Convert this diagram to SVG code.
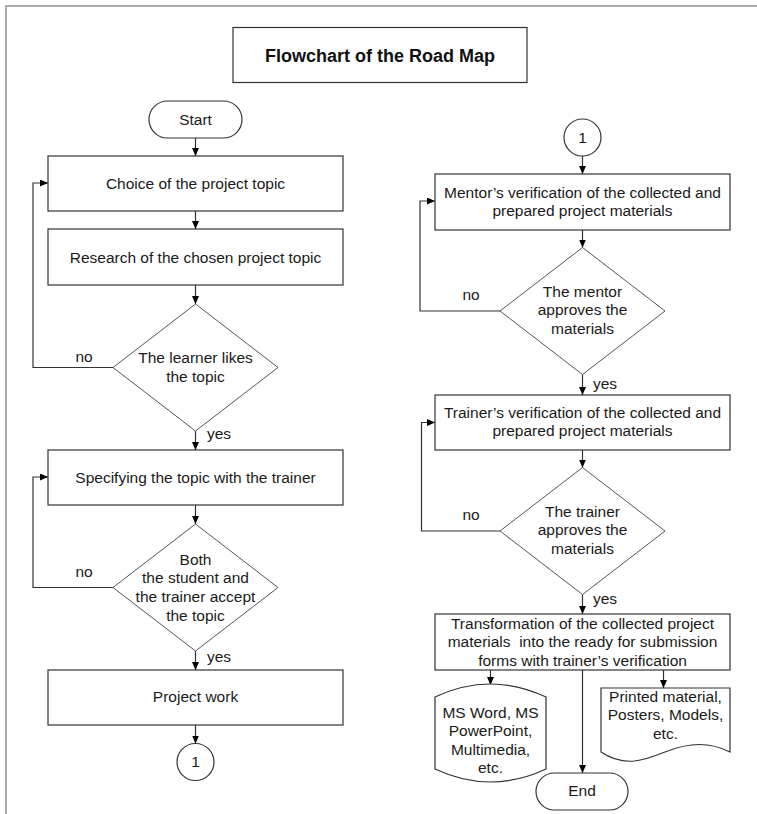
<svg xmlns="http://www.w3.org/2000/svg" width="757" height="814" viewBox="0 0 757 814">
<style>
.t{font-family:"Liberation Sans",Arial,sans-serif;font-size:15.5px;fill:#1a1a1a;text-anchor:middle}
.l{font-family:"Liberation Sans",Arial,sans-serif;font-size:15.5px;fill:#1a1a1a}
.b{fill:#fff;stroke:#333;stroke-width:1.2}
.d{fill:#fff;stroke:#555;stroke-width:1}
.c{fill:none;stroke:#333;stroke-width:1.2}
</style>
<defs>
<marker id="a" markerWidth="8" markerHeight="7" refX="8" refY="3.5" orient="auto" markerUnits="userSpaceOnUse">
<path d="M0,0 L8,3.5 L0,7 Z" fill="#000"/>
</marker>
</defs>
<rect width="757" height="814" fill="#fff"/>
<path d="M6,814 V6 H757" fill="none" stroke="#aaa" stroke-width="2"/>

<g id="title">
<rect class="b" x="233" y="27.5" width="294" height="55"/>
<text x="380" y="62" style="font-family:'Liberation Sans',Arial,sans-serif;font-size:18px;font-weight:bold;fill:#111;text-anchor:middle">Flowchart of the Road Map</text>
</g>

<g id="connectors">
<path class="c" d="M195.5,138 V156" marker-end="url(#a)"/>
<path class="c" d="M195.5,211 V229" marker-end="url(#a)"/>
<path class="c" d="M195.5,285 V304" marker-end="url(#a)"/>
<path class="c" d="M195.5,431 V450" marker-end="url(#a)"/>
<path class="c" d="M195.5,505 V524" marker-end="url(#a)"/>
<path class="c" d="M195.5,651 V670" marker-end="url(#a)"/>
<path class="c" d="M195.5,725 V743.5" marker-end="url(#a)"/>
<path class="c" d="M113,367.5 H33 V183 H48" marker-end="url(#a)"/>
<path class="c" d="M113,587.5 H33 V477 H48" marker-end="url(#a)"/>
<path class="c" d="M582.5,156 V174" marker-end="url(#a)"/>
<path class="c" d="M582.5,230 V247.5" marker-end="url(#a)"/>
<path class="c" d="M582.5,374.5 V395" marker-end="url(#a)"/>
<path class="c" d="M582.5,450 V467.5" marker-end="url(#a)"/>
<path class="c" d="M582.5,594.5 V614" marker-end="url(#a)"/>
<path class="c" d="M500,311 H420 V201 H435" marker-end="url(#a)"/>
<path class="c" d="M500,531 H421.5 V422.5 H435" marker-end="url(#a)"/>
<path class="c" d="M490.5,670 V685" marker-end="url(#a)"/>
<path class="c" d="M582.5,670 V773" marker-end="url(#a)"/>
<path class="c" d="M663.5,670 V688" marker-end="url(#a)"/>
<text class="l" x="84" y="362" text-anchor="middle">no</text>
<text class="l" x="207" y="438.5">yes</text>
<text class="l" x="84" y="577" text-anchor="middle">no</text>
<text class="l" x="207" y="661.5">yes</text>
<text class="l" x="471" y="300" text-anchor="middle">no</text>
<text class="l" x="593" y="388.5">yes</text>
<text class="l" x="471" y="520" text-anchor="middle">no</text>
<text class="l" x="593" y="604">yes</text>
</g>

<g id="start">
<rect class="b" x="149" y="101" width="93" height="37" rx="18.5"/>
<text class="t" x="195.5" y="124.5">Start</text>
</g>
<g id="choice">
<rect class="b" x="48" y="156" width="295" height="55"/>
<text class="t" x="195.5" y="189">Choice of the project topic</text>
</g>
<g id="research">
<rect class="b" x="48" y="229" width="295" height="56"/>
<text class="t" x="195.5" y="262.5">Research of the chosen project topic</text>
</g>
<g id="likes">
<polygon class="d" points="195.5,304 278,367.5 195.5,431 113,367.5"/>
<text class="t" x="195.5" y="363.3">The learner likes</text>
<text class="t" x="195.5" y="382">the topic</text>
</g>
<g id="specify">
<rect class="b" x="48" y="450" width="295" height="55"/>
<text class="t" x="195.5" y="482.5">Specifying the topic with the trainer</text>
</g>
<g id="accept">
<polygon class="d" points="195.5,524 278,587.5 195.5,651 113,587.5"/>
<text class="t" x="195.5" y="564.5">Both</text>
<text class="t" x="195.5" y="583.2">the student and</text>
<text class="t" x="195.5" y="601.9">the trainer accept</text>
<text class="t" x="195.5" y="620.6">the topic</text>
</g>
<g id="work">
<rect class="b" x="48" y="670" width="295" height="55"/>
<text class="t" x="195.5" y="702">Project work</text>
</g>
<g id="con1a">
<circle class="b" cx="195.5" cy="762" r="18.5"/>
<text class="t" x="195.5" y="767">1</text>
</g>

<g id="con1b">
<circle class="b" cx="582.5" cy="137.5" r="18.5"/>
<text class="t" x="582.5" y="143">1</text>
</g>
<g id="mentorver">
<rect class="b" x="435" y="174" width="295" height="56"/>
<text class="t" x="582.5" y="197.7">Mentor’s verification of the collected and</text>
<text class="t" x="582.5" y="216.2">prepared project materials</text>
</g>
<g id="mentorok">
<polygon class="d" points="582.5,247.5 665,311 582.5,374.5 500,311"/>
<text class="t" x="582.5" y="296.8">The mentor</text>
<text class="t" x="582.5" y="315.4">approves the</text>
<text class="t" x="582.5" y="334">materials</text>
</g>
<g id="trainerver">
<rect class="b" x="435" y="395" width="295" height="55"/>
<text class="t" x="582.5" y="417.5">Trainer’s verification of the collected and</text>
<text class="t" x="582.5" y="436.2">prepared project materials</text>
</g>
<g id="trainerok">
<polygon class="d" points="582.5,467.5 665,531 582.5,594.5 500,531"/>
<text class="t" x="582.5" y="516.8">The trainer</text>
<text class="t" x="582.5" y="535.4">approves the</text>
<text class="t" x="582.5" y="554">materials</text>
</g>
<g id="transform">
<rect class="b" x="435" y="614" width="295" height="56"/>
<text class="t" x="582.5" y="628.5">Transformation of the collected project</text>
<text class="t" x="582.5" y="647" xml:space="preserve">materials  into the ready for submission</text>
<text class="t" x="582.5" y="665.5">forms with trainer’s verification</text>
</g>
<g id="digital">
<path class="b" d="M435,697 Q490.5,671 546,697 V769 Q490.5,795 435,769 Z"/>
<text class="t" x="490.5" y="717.5">MS Word, MS</text>
<text class="t" x="490.5" y="736">PowerPoint,</text>
<text class="t" x="490.5" y="754.5">Multimedia,</text>
<text class="t" x="490.5" y="773">etc.</text>
</g>
<g id="printed">
<path class="b" d="M601,688 H730 V752 C710,742 690,742 665,752 C645,760 625,768 601,752 Z"/>
<text class="t" x="665.5" y="701.7">Printed material,</text>
<text class="t" x="665.5" y="720.3">Posters, Models,</text>
<text class="t" x="665.5" y="739">etc.</text>
</g>
<g id="end">
<rect class="b" x="536" y="773" width="92" height="37" rx="18.5"/>
<text class="t" x="582" y="796">End</text>
</g>
</svg>
